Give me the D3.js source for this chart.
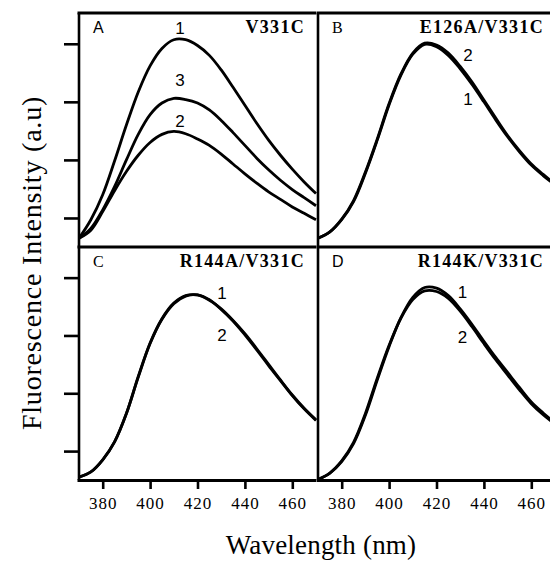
<!DOCTYPE html>
<html>
<head>
<meta charset="utf-8">
<script src="https://cdn.jsdelivr.net/npm/d3@7"></script>
<style>
  body { margin: 0; background: #fff; }
  svg text { font-family: "Liberation Serif", "Times New Roman", serif; fill: #000; }
</style>
</head>
<body>
<div id="chart"></div>
<script>
const wavelengths = [370, 375, 380, 385, 390, 395, 400, 405, 410, 415, 420,
  425, 430, 435, 440, 445, 450, 455, 460, 465, 470];
const xTicks = [380, 400, 420, 440, 460];
const yTicks = [1, 2, 3, 4];

// panel A, V331C
const aCurve1 = [0.65, 0.97, 1.40, 1.98, 2.60, 3.17, 3.62, 3.92, 4.07, 4.07, 3.97,
  3.80, 3.55, 3.25, 2.94, 2.63, 2.34, 2.08, 1.84, 1.62, 1.42];
const aCurve2 = [0.65, 0.79, 1.11, 1.47, 1.80, 2.08, 2.30, 2.44, 2.49, 2.45, 2.36,
  2.25, 2.10, 1.93, 1.76, 1.60, 1.45, 1.32, 1.19, 1.08, 0.97];
const aCurve3 = [0.65, 0.82, 1.14, 1.54, 2.00, 2.44, 2.78, 2.98, 3.06, 3.04, 2.98,
  2.86, 2.68, 2.47, 2.25, 2.03, 1.83, 1.65, 1.49, 1.35, 1.21];

// panel B, E126A/V331C
const bCurve1 = [0.65, 0.76, 0.97, 1.28, 1.77, 2.34, 2.95, 3.46, 3.82, 3.99, 3.95,
  3.80, 3.57, 3.30, 3.00, 2.69, 2.40, 2.14, 1.91, 1.73, 1.57];
const bCurve2 = [0.65, 0.76, 0.98, 1.30, 1.79, 2.36, 2.97, 3.48, 3.84, 4.01, 3.98,
  3.84, 3.61, 3.34, 3.03, 2.72, 2.42, 2.16, 1.93, 1.75, 1.58];

// panel C, R144A/V331C
const cCurve1 = [0.55, 0.64, 0.85, 1.16, 1.65, 2.28, 2.86, 3.28, 3.55, 3.68, 3.70,
  3.61, 3.46, 3.26, 3.03, 2.77, 2.50, 2.23, 1.97, 1.74, 1.54];
const cCurve2 = [0.55, 0.64, 0.85, 1.16, 1.65, 2.29, 2.87, 3.29, 3.56, 3.69, 3.70,
  3.62, 3.45, 3.25, 3.01, 2.75, 2.48, 2.22, 1.96, 1.73, 1.53];

// panel D, R144K/V331C
const dCurve1 = [0.51, 0.62, 0.82, 1.13, 1.62, 2.23, 2.81, 3.31, 3.66, 3.83, 3.82,
  3.69, 3.46, 3.19, 2.90, 2.62, 2.36, 2.10, 1.85, 1.66, 1.49];
const dCurve2 = [0.51, 0.62, 0.83, 1.15, 1.65, 2.26, 2.83, 3.30, 3.62, 3.77, 3.76,
  3.64, 3.42, 3.15, 2.86, 2.58, 2.32, 2.06, 1.82, 1.63, 1.47];

const panels = [
  { letter: "A", name: "V331C", col: 0, row: 0, letterFont: "sans",
    series: [aCurve1, aCurve2, aCurve3],
    labels: [["1", 412.6, 4.27], ["3", 412.6, 3.38], ["2", 412.6, 2.67]] },
  { letter: "B", name: "E126A/V331C", col: 1, row: 0, letterFont: "serif",
    series: [bCurve1, bCurve2],
    labels: [["2", 433.3, 3.81], ["1", 433.3, 3.05]] },
  { letter: "C", name: "R144A/V331C", col: 0, row: 1, letterFont: "serif",
    series: [cCurve1, cCurve2],
    labels: [["1", 430.3, 3.74], ["2", 430.3, 3.01]] },
  { letter: "D", name: "R144K/V331C", col: 1, row: 1, letterFont: "sans",
    series: [dCurve1, dCurve2],
    labels: [["1", 431, 3.75], ["2", 431, 2.97]] },
];

const width = 550, height = 564;
const colX = [[79, 316], [318, 555]];
const rowY = [[247, 13], [480, 247]];
const sansFont = '"Liberation Sans", Arial, sans-serif';

const svg = d3.select("#chart")
  .append("svg")
  .attr("width", width)
  .attr("height", height)
  .style("display", "block");

svg.append("rect").attr("width", width).attr("height", height).attr("fill", "#fff");

const drawPanel = p => {
  const x = d3.scaleLinear().domain([370, 470]).range(colX[p.col]);
  const y = d3.scaleLinear().domain([0.5, 4.53]).range(rowY[p.row]);
  const g = svg.append("g");

  const line = d3.line()
    .x((d, i) => x(wavelengths[i]))
    .y(d => y(d))
    .curve(d3.curveCatmullRom.alpha(0.5));

  g.selectAll("path.spectrum")
    .data(p.series)
    .enter()
    .append("path")
    .attr("class", "spectrum")
    .attr("d", d => line(d))
    .attr("fill", "none")
    .attr("stroke", "#000")
    .attr("stroke-width", 2.8)
    .attr("stroke-linejoin", "round");

  // frame: top and left edges
  g.append("line")
    .attr("x1", x.range()[0] - 1.5).attr("x2", x.range()[1])
    .attr("y1", y.range()[1]).attr("y2", y.range()[1])
    .attr("stroke", "#000").attr("stroke-width", 3);
  g.append("line")
    .attr("x1", x.range()[0]).attr("x2", x.range()[0])
    .attr("y1", y.range()[1]).attr("y2", y.range()[0])
    .attr("stroke", "#000").attr("stroke-width", 2.6);

  if (p.col === 0) {
    const yAxis = g.append("g")
      .attr("transform", `translate(${x.range()[0]},0)`)
      .call(d3.axisLeft(y).tickValues(yTicks).tickSize(15).tickFormat(""));
    yAxis.select(".domain").remove();
    yAxis.selectAll(".tick line").attr("stroke", "#000").attr("stroke-width", 2.6);
  }

  if (p.row === 1) {
    const xAxis = g.append("g")
      .attr("transform", `translate(0,${y.range()[0]})`)
      .call(d3.axisBottom(x).tickValues(xTicks).tickSize(9).tickPadding(8));
    xAxis.select(".domain")
      .attr("d", `M${x.range()[0] - 1.5},0.5H${x.range()[1]}`)
      .attr("stroke", "#000").attr("stroke-width", 3);
    xAxis.selectAll(".tick line").attr("stroke", "#000").attr("stroke-width", 2.6);
    xAxis.selectAll(".tick text")
      .style("font-family", '"Liberation Serif", serif')
      .style("font-size", "17px")
      .style("letter-spacing", "1px")
      .attr("fill", "#000");
  }

  const top = y.range()[1];
  g.append("text")
    .attr("x", x.range()[0] + 14)
    .attr("y", top + 20)
    .style("font-family", p.letterFont === "sans" ? sansFont : null)
    .style("font-size", "16px")
    .text(p.letter);

  g.append("text")
    .attr("x", Math.min(x.range()[1] - 11, 545))
    .attr("y", top + 20)
    .attr("text-anchor", "end")
    .style("font-size", "18px")
    .style("font-weight", "bold")
    .style("letter-spacing", "1.3px")
    .text(p.name);

  g.selectAll("text.curveLabel")
    .data(p.labels)
    .enter()
    .append("text")
    .attr("class", "curveLabel")
    .attr("x", d => x(d[1]))
    .attr("y", d => y(d[2]))
    .attr("dy", "0.35em")
    .attr("text-anchor", "middle")
    .style("font-family", sansFont)
    .style("font-size", "17px")
    .text(d => d[0]);
};

panels.forEach(drawPanel);

// axis titles
svg.append("text")
  .attr("x", 321)
  .attr("y", 554)
  .attr("text-anchor", "middle")
  .style("font-size", "27px")
  .style("letter-spacing", "0.2px")
  .text("Wavelength (nm)");

svg.append("text")
  .attr("transform", "translate(41,263) rotate(-90)")
  .attr("text-anchor", "middle")
  .style("font-size", "28px")
  .style("letter-spacing", "0.8px")
  .text("Fluorescence Intensity (a.u)");
</script>
</body>
</html>
